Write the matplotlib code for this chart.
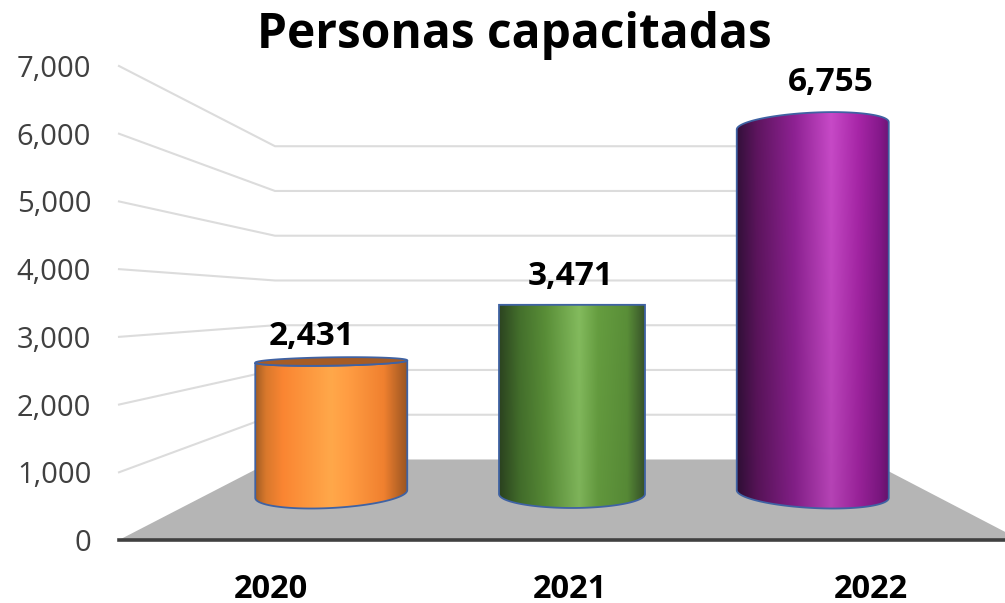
import numpy as np
import matplotlib
matplotlib.use("Agg")
import matplotlib.pyplot as plt
from matplotlib.colors import LinearSegmentedColormap
from matplotlib.patches import Polygon

# ---- data ----
years = ["2020", "2021", "2022"]
personas = [2431, 3471, 6755]
y_ticks = [0, 1000, 2000, 3000, 4000, 5000, 6000, 7000]
title = "Personas capacitadas"

# ---- style ----
stops = [
    [(0, "#a05c24"), (.07, "#d8782c"), (.18, "#fa8532"), (.5, "#ffa84a"), (.62, "#ff9c42"), (.85, "#f0802f"), (1, "#9a5522")],
    [(0, "#2c4420"), (.14, "#44702c"), (.32, "#5a8f38"), (.55, "#84bc5e"), (.68, "#669e40"), (.88, "#5a8f38"), (1, "#38542a")],
    [(0, "#33103a"), (.13, "#5e155f"), (.38, "#8f2294"), (.62, "#c84ac8"), (.8, "#a826a8"), (.95, "#84188a"), (1, "#6e1676")],
]
fade_low = [1.0, 0.95, 0.9]
half_px = [76, 73, 76]
cap_color = ["#a65c25", None, None]
edge = "#3f62a3"
grid = "#dcdcdc"
txt = "#404040"
plt.rcParams["font.family"] = ["Open Sans", "DejaVu Sans"]

W, H = 1005, 603
fig = plt.figure(figsize=(W / 100, H / 100), dpi=100, facecolor="white")

def box(x0, x1, ytop, ybot):
    return [x0 / W, 1 - ybot / H, (x1 - x0) / W, (ybot - ytop) / H]

# wall / floor axes: y is the value scale of the front-left axis, x is horizontal pixels
wall = fig.add_axes(box(119, 1005, 66, 540))
wall.set_xlim(119, 1005)
wall.set_ylim(0, 7000)
for s in ["top", "left", "right"]:
    wall.spines[s].set_visible(False)
wall.spines["bottom"].set_color(txt)
wall.spines["bottom"].set_linewidth(2.6)
wall.set_yticks(y_ticks, [f"{v:,}" for v in y_ticks], fontsize=21, color=txt)
wall.set_xticks([271, 570, 871], years, fontsize=23.5, fontweight="bold", color="black")
wall.tick_params(axis="y", length=0, pad=20)
wall.tick_params(axis="x", length=0, pad=23.5)

def back(v):
    return 1189 + 0.6609 * v

wall.add_patch(Polygon([(119, 0), (275, back(0)), (866, back(0)), (1005, 120), (1005, 0)],
                       closed=True, fc="#b5b5b5", ec="none", zorder=1))
for v in y_ticks[1:]:
    wall.plot([119, 275, 866], [v, back(v), back(v)], color=grid, lw=1.5, zorder=1, clip_on=False)

fig.text(514 / W, 1 - 35 / H, title, ha="center", va="center", fontsize=34.5, fontweight="bold", color="black")

# cylinder axes: x is category index, y is the value at the plane of the bars
PX_PER_V = 0.0545
PX_PER_X = 240.75
BASE_PX = 494
LOW = -1000
ax = fig.add_axes(box(0, W, BASE_PX - 7000 * PX_PER_V, BASE_PX - LOW * PX_PER_V), facecolor="none")
xlim = (1 - 572 / PX_PER_X, 1 + (W - 572) / PX_PER_X)
ax.set_axis_off()
EYE = 305

for i, v in enumerate(personas):
    half = half_px[i] / PX_PER_X
    th = np.linspace(np.pi, 0, 80)
    u = np.cos(th)
    xs = i + half * u

    def arc(val, sign=1):
        y_px = BASE_PX - val * PX_PER_V
        ry = 0.074 * (y_px - EYE)
        tilt = 8.5e-5 * ((i - 1) * PX_PER_X) * (y_px - EYE)
        return (BASE_PX - (y_px + sign * ry * np.sin(th) + tilt * u)) / PX_PER_V

    top_front = arc(v)
    base_front = arc(0)
    px = np.r_[xs, xs[::-1]]
    py = np.r_[top_front, base_front[::-1]]

    cmap = LinearSegmentedColormap.from_list(f"c{i}", stops[i])
    cols = cmap(np.linspace(0, 1, 512))[:, :3]
    fade = np.linspace(1.0, fade_low[i], 120)[:, None, None]
    img = np.clip(cols[None, :, :] * fade, 0, 1)
    im = ax.imshow(img, extent=(i - half, i + half, -400, v + 400), aspect="auto",
                   interpolation="bilinear", zorder=3)
    patch = Polygon(np.c_[px, py], closed=True, fc="none", ec=edge, lw=1.3, zorder=4, clip_on=False)
    ax.add_patch(patch)
    im.set_clip_path(patch)
    if cap_color[i]:
        back_arc = arc(v, -1)
        ax.add_patch(Polygon(np.c_[np.r_[xs, xs[::-1]], np.r_[top_front, back_arc[::-1]]], closed=True,
                             fc=cap_color[i], ec=edge, lw=1.3, zorder=5, clip_on=False))

ax.set_xlim(*xlim)
ax.set_ylim(LOW, 7000)

label_offsets = [(-20, 27), (-1, 30), (18, 45)]
for i, v in enumerate(personas):
    dx, dy = label_offsets[i]
    ax.annotate(f"{v:,}", (i, v), xytext=(dx * 0.72, dy * 0.72 - 1.5), textcoords="offset points",
                ha="center", va="center", fontsize=24, fontweight="bold", color="black",
                zorder=6, annotation_clip=False)

fig.savefig("out.png", dpi=100)
